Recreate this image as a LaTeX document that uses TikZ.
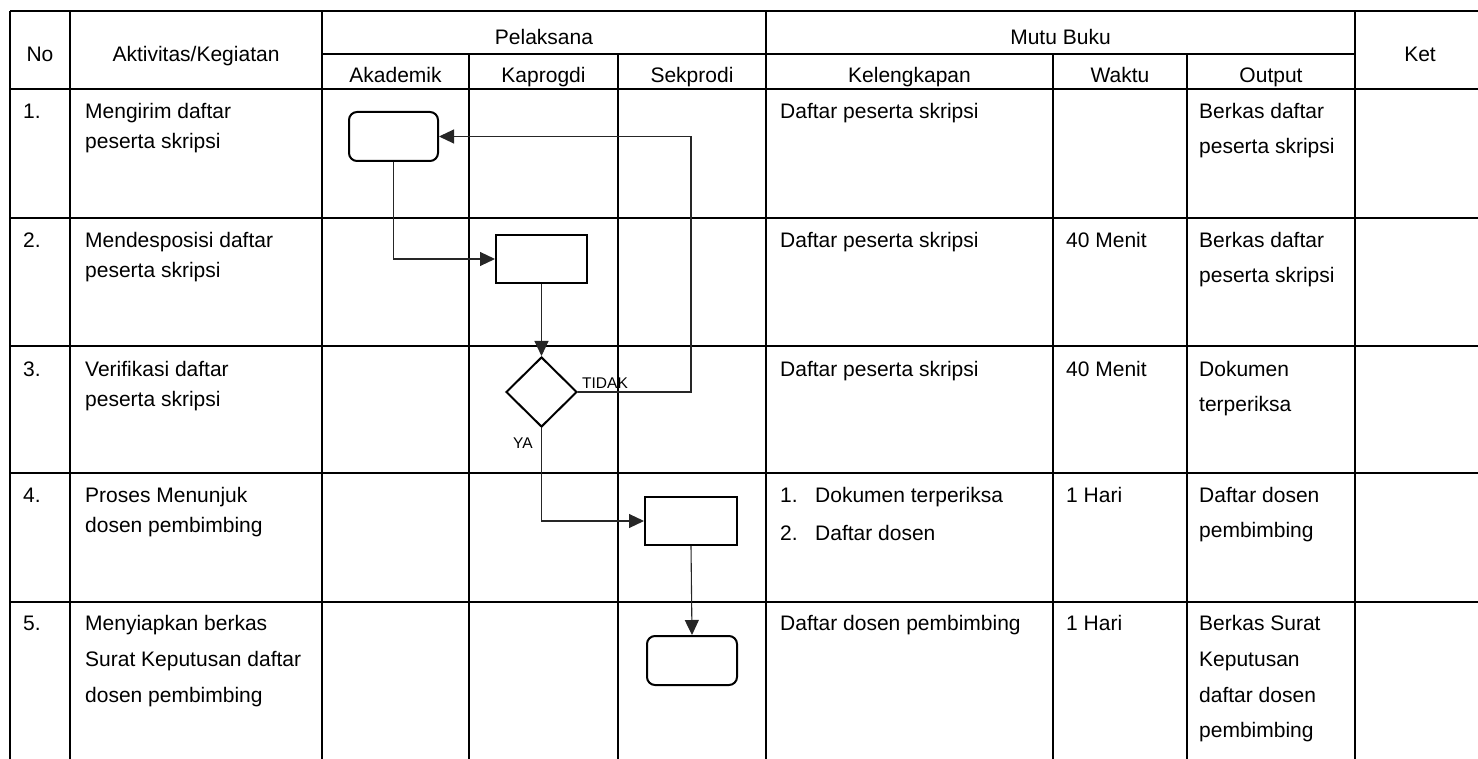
\documentclass[tikz,border=0pt]{standalone}
\usepackage{fontspec}
\setmainfont{Liberation Sans}
\usetikzlibrary{arrows.meta,shapes.geometric}
\newcommand\tl[4]{\node[txt] (#1) at (#2,#3) {#4};}
\begin{document}
\begin{tikzpicture}[x=1pt,y=-1pt,
  grid/.style={line width=1.8pt},
  txt/.style={font=\fontsize{21}{25}\selectfont, inner sep=0pt, anchor=base west},
  hdr/.style={font=\fontsize{21}{25}\selectfont, inner sep=0pt, anchor=base},
  lbl/.style={font=\fontsize{15.5}{18}\selectfont, inner sep=0pt, anchor=base west},
  proc/.style={draw, line width=2pt, minimum width=91pt, minimum height=48pt, inner sep=0pt},
  term/.style={proc, rounded corners=8pt},
  dec/.style={draw, diamond, aspect=1, line width=2pt, minimum width=71pt, minimum height=70pt, inner sep=0pt},
  conn/.style={line width=1.1pt, draw=black!85, -{Triangle[length=15pt,width=14pt]}}
]
\useasboundingbox (0,0) rectangle (1478,759);
% grid
\draw[grid] (10,11) -- (1490,11);
\draw[grid] (322,54) -- (1355,54);
\foreach \yy in {89,218,346,473,602} \draw[grid] (10,\yy) -- (1490,\yy);
\foreach \xx in {10,70,322,766,1355} \draw[grid] (\xx,11) -- (\xx,770);
\foreach \xx in {469,618,1053,1187} \draw[grid] (\xx,54) -- (\xx,770);
% headers
\node[hdr] (hNo) at (40,62) {No};
\node[hdr] (hAkt) at (196,62) {Aktivitas/Kegiatan};
\node[hdr] (hPel) at (544,45) {Pelaksana};
\node[hdr] (hMutu) at (1060.5,45) {Mutu Buku};
\node[hdr] (hKet) at (1420,62) {Ket};
\node[hdr] (hAka) at (395.5,83) {Akademik};
\node[hdr] (hKap) at (543.5,83) {Kaprogdi};
\node[hdr] (hSek) at (692,83) {Sekprodi};
\node[hdr] (hKel) at (909.5,83) {Kelengkapan};
\node[hdr] (hWak) at (1120,83) {Waktu};
\node[hdr] (hOut) at (1271,83) {Output};
% row 1
\tl{n1}{23}{119}{1.}
\tl{a1a}{85}{119}{Mengirim daftar}
\tl{a1b}{85}{149}{peserta skripsi}
\tl{k1}{780}{119}{Daftar peserta skripsi}
\tl{o1a}{1199}{119}{Berkas daftar}
\tl{o1b}{1199}{154}{peserta skripsi}
% row 2
\tl{n2}{23}{248}{2.}
\tl{a2a}{85}{248}{Mendesposisi daftar}
\tl{a2b}{85}{278}{peserta skripsi}
\tl{k2}{780}{248}{Daftar peserta skripsi}
\tl{w2}{1066}{248}{40 Menit}
\tl{o2a}{1199}{248}{Berkas daftar}
\tl{o2b}{1199}{283}{peserta skripsi}
% row 3
\tl{n3}{23}{376}{3.}
\tl{a3a}{85}{376}{Verifikasi daftar}
\tl{a3b}{85}{406}{peserta skripsi}
\tl{k3}{780}{376}{Daftar peserta skripsi}
\tl{w3}{1066}{376}{40 Menit}
\tl{o3a}{1199}{376}{Dokumen}
\tl{o3b}{1199}{411}{terperiksa}
% row 4
\tl{n4}{23}{502}{4.}
\tl{a4a}{85}{502}{Proses Menunjuk}
\tl{a4b}{85}{532}{dosen pembimbing}
\tl{k4n}{780}{502}{1.}
\tl{k4a}{815}{502}{Dokumen terperiksa}
\tl{k5n}{780}{540}{2.}
\tl{k4b}{815}{540}{Daftar dosen}
\tl{w4}{1066}{502}{1 Hari}
\tl{o4a}{1199}{502}{Daftar dosen}
\tl{o4b}{1199}{537}{pembimbing}
% row 5
\tl{n5}{23}{630}{5.}
\tl{a5a}{85}{630}{Menyiapkan berkas}
\tl{a5b}{85}{666}{Surat Keputusan daftar}
\tl{a5c}{85}{702}{dosen pembimbing}
\tl{k5}{780}{630}{Daftar dosen pembimbing}
\tl{w5}{1066}{630}{1 Hari}
\tl{o5a}{1199}{630}{Berkas Surat}
\tl{o5b}{1199}{666}{Keputusan}
\tl{o5c}{1199}{702}{daftar dosen}
\tl{o5d}{1199}{737}{pembimbing}
% flow shapes
\node[term, minimum width=89pt, minimum height=49pt] (s1) at (393.5,136.5) {};
\node[proc] (s2) at (541.5,259) {};
\node[dec] (s3) at (541.5,392) {};
\node[proc, minimum width=92pt] (s4) at (691,521) {};
\node[term, minimum width=90pt, minimum height=49pt] (s5) at (692,660.5) {};
% connectors
\draw[conn] (s1.south) |- (s2.west);
\draw[conn] (s2.south) -- (s3.north);
\draw[conn] (s3.east) -- ++(113,0) |- (s1.east);
\draw[conn] (s3.south) |- (s4.west);
\draw[conn] (s4.south) -- (s5.north);
% labels
\node[lbl] (tidak) at (582,388) {TIDAK};
\node[lbl] (ya) at (513,448) {YA};
\end{tikzpicture}
\end{document}
